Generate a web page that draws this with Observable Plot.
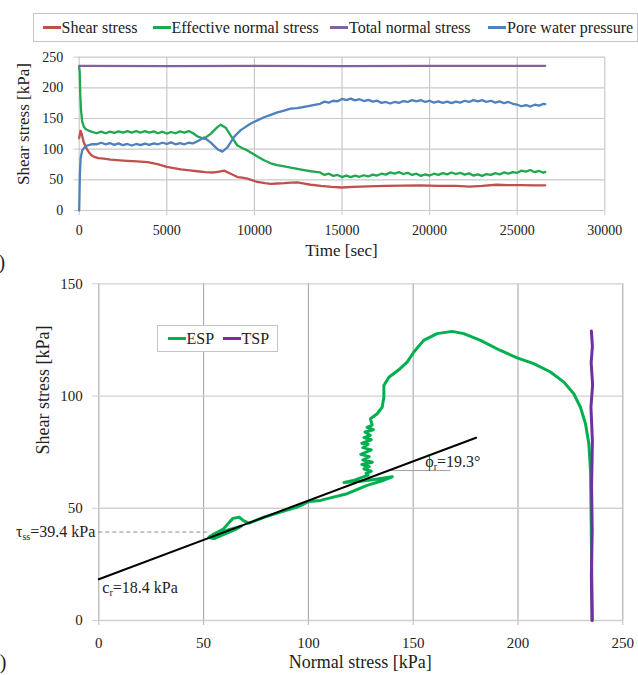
<!DOCTYPE html>
<html><head><meta charset="utf-8">
<script src="https://cdn.jsdelivr.net/npm/d3@7"></script>
<script src="https://cdn.jsdelivr.net/npm/@observablehq/plot@0.6"></script>
<style>
body{margin:0;background:#fff;}
#root{position:relative;width:638px;height:675px;overflow:hidden;font-family:"Liberation Serif",serif;color:#222;}
#top,#bottom{position:absolute;left:0;}
#top{top:0}
#bottom{top:265px}
.legend{position:absolute;border:1px solid #c4c4c4;background:#fff;box-sizing:border-box;}
.item{position:absolute;top:0;height:100%;display:flex;align-items:center;font-size:16px;white-space:nowrap;}
.sw{display:inline-block;width:18px;height:2.6px;margin-right:1px;}
.panel{position:absolute;font-size:20px;line-height:1;}
</style></head>
<body><div id="root"></div>
<script>
// ---------- data: time series (top) ----------
const xTicksTop = [0, 5000, 10000, 15000, 20000, 25000, 30000];
const yTicksTop = [0, 50, 100, 150, 200, 250];
const seriesNames = ["Shear stress", "Effective normal stress", "Total normal stress", "Pore water pressure"];
const seriesColors = ["#c0504d", "#1fa84f", "#8064a2", "#4f81bd"];

// [time (s), value (kPa)]
const shear = [[0,118],[80,130],[150,124],[250,112],[400,102],[550,95],[700,90],[900,87],[1100,85.5],[1400,84.5],[1800,83],[2500,81.5],[3300,80],[3900,79],[4460,75.5],[5000,71],[5400,69],[5800,67],[6300,65.5],[6740,64],[7200,62.5],[7700,62],[8000,63.5],[8270,65],[8650,60],[9030,54.5],[9300,53.5],[9600,52],[10170,46.5],[10600,44.5],[10930,43.5],[11300,44],[11700,44.5],[12100,45.5],[12450,46],[12850,44],[13220,42],[13790,40],[14400,38.5],[15000,37.5],[15600,38.5],[16500,39.5],[17500,40],[18500,40.5],[19470,41],[20500,40],[21500,40],[22300,39],[23000,40],[23800,42],[24500,41.5],[25200,41.5],[26000,41],[26600,41]];

const effective = [[0,235],[30,225],[60,190],[100,165],[170,145],[260,137],[360,133],[500,131],[650,129],
  [1000,126],[1250,128.5],[1500,126],[1750,128.5],[2000,126.5],[2250,129],[2500,127],[2750,129.5],[3000,127],[3250,129.5],[3500,127],[3750,129.5],[4000,127],[4250,129],[4500,126],[4750,128.5],[5000,125.5],[5250,128],[5500,126],[5750,129],[6000,127],[6250,129.5],
  [6500,126],[6740,121],[7120,117],[7500,125],[7890,136],[8080,140],[8360,135],[8650,122],[9030,106],[9300,102],[9600,98],[10170,88],[10550,82],[10930,77],[11300,74],[11700,72],[12070,70],[12450,68],[12840,66],[13220,64],[13500,63],
  [13750,62],[14000,58],[14250,60],[14500,56.5],[14750,58],[15000,54.5],[15250,57],[15500,54.5],[15750,57],[16000,55],[16250,57.5],[16500,55.5],[16750,58.5],[17000,57],[17250,60],[17500,58.5],[17750,62],[18000,60],[18250,62.5],[18500,59.5],[18750,61.5],[19000,58],[19250,60],[19500,56.5],[19750,59],[20000,57],[20250,60],[20500,58],[20750,61],[21000,59],[21250,62],[21500,59.5],[21750,61.5],[22000,58.5],[22250,60.5],[22500,57],[22750,59],[23000,56.5],[23250,59.5],[23500,58],[23750,61],[24000,59],[24250,62],[24500,60],[24750,62.5],[25000,61.5],[25250,65],[25500,63.5],[25750,66],[26000,62.5],[26250,64.5],[26500,61.5],[26600,63]];

const total = [[0,236],[5000,235.6],[10000,236],[15000,235.6],[20000,236],[26600,236]];

const pore = [[0,0],[20,30],[40,60],[80,85],[170,98],[300,103],[460,106],[700,108],
  [1000,108],[1250,110.5],[1500,108],[1750,110],[2000,107],[2250,109.5],[2500,106.5],[2750,108.5],[3000,106],[3250,108.5],[3500,106.5],[3750,109],[4000,107],[4250,109.5],[4500,108],[4750,110.5],[5000,108.5],[5250,111],[5500,108],[5750,110],[6000,108],[6250,110.5],[6500,109.5],
  [6750,113],[7120,119],[7500,111],[7890,100],[8170,96],[8460,103],[8840,120],[9220,131],[9790,142],[10170,147],[10550,152],[10930,156],[11310,160],[11700,163],[12070,166],[12450,167],[12840,169],[13220,171],[13500,172.5],
  [13750,174],[14000,177.5],[14250,176],[14500,179],[14750,178],[15000,182],[15250,180],[15500,182.5],[15750,179.5],[16000,181.5],[16250,178.5],[16500,180.5],[16750,177.5],[17000,179],[17250,175.5],[17500,177],[17750,174.5],[18000,177],[18250,175.5],[18500,178.5],[18750,177],[19000,180],[19250,178],[19500,180],[19750,177],[20000,179],[20250,176],[20500,178],[20750,175.5],[21000,177.5],[21250,175],[21500,177.5],[21750,176],[22000,179],[22250,177],[22500,180],[22750,178],[23000,180],[23250,177],[23500,179],[23750,176],[24000,178],[24250,175],[24500,177],[24750,174],[25000,172.5],[25250,170],[25500,172],[25750,169.5],[26000,172.5],[26250,171],[26500,174],[26600,173.5]];

// ---------- data: stress paths (bottom) ----------
const xTicksBot = [0, 50, 100, 150, 200, 250];
const yTicksBot = [0, 50, 100, 150];
const pathNames = ["ESP", "TSP"];
const pathColors = ["#00b050", "#7030a0"];
// [normal stress, shear stress] (kPa)
const esp = [[235.5,0],[235.2,20],[234.9,45],[234.6,66.8],[233.8,78.7],[232.2,87.6],[229.8,95],[226.6,101],[221.9,106.2],[215.5,110.7],[207.5,114.4],[199.6,117],[191.6,120.3],[182.1,124.8],[174.1,127.8],[168.6,128.8],[161.4,127.8],[155,124.8],[150.3,119.6],[147.1,115.1],[143.1,111.7],[138.4,108.4],[136,104.7],[136,99.5],[135.2,95],[132.8,92.1],[129.6,89.9],
  [130.4,87],[128,86],[131,85],[127,84],[129.5,82.5],[126.5,81.5],[130,80.5],[125.5,79],[128.5,78.5],[126,77],[130,76],[127.5,75],[125,74],[129,73],[126,71.5],[130.5,70.5],[125.5,69.5],[129,68.5],[126.5,67.5],[130,66.5],[127.5,65.5],[128.5,64.8],
  [122,62.5],[117,61.5],[125,62],[133,63],[140,64],[136,62.5],[128,60.2],[118.5,56.5],[110,54.5],[105.8,53.5],[100.2,53],[97,51.5],[94.6,50.5],[86.7,48.3],[78.7,46],[71.6,43.4],[69,44.5],[67,46],[64,45.5],[62,43.5],[59.6,40.9],[56,39],[54.9,38.6],[52.5,37],[55,36.5],[60,38.5],[65,40.5],[68,42],[62,40.5],[56,38],[53,37.5]];
const tsp = [[235.3,0],[235.0,20],[235.4,40],[235.1,60],[235.5,80],[234.8,95],[235.6,105],[234.9,115],[235.5,122],[235.0,129]];

// failure envelope & annotations
const cr = 18.4, phiR = 19.3, tauSS = 39.4;
const envX = [0, 180];
const angleRefS = 66.8, angleRefEndN = 168, tauDashEndN = 53;

// ---------- build ----------
const root = document.getElementById("root");
const font = "Liberation Serif, serif";

function legend(names, colors, box, swX) {
  const lg = document.createElement("div");
  lg.className = "legend";
  Object.assign(lg.style, {left: box[0] + "px", top: box[1] + "px", width: box[2] + "px", height: box[3] + "px"});
  names.forEach((n, i) => {
    const it = document.createElement("div");
    it.className = "item";
    it.style.left = (swX[i] - box[0]) + "px";
    it.innerHTML = `<span class="sw" style="background:${colors[i]}"></span><span>${n}</span>`;
    lg.appendChild(it);
  });
  root.appendChild(lg);
}
legend(seriesNames, seriesColors, [33, 13, 605, 29], [41.5, 151.5, 329, 487]);

const rows = (arr, s) => arr.map(([t, v]) => ({t, v, s}));
const tsData = [
  ...rows(shear, seriesNames[0]),
  ...rows(effective, seriesNames[1]),
  ...rows(total, seriesNames[2]),
  ...rows(pore, seriesNames[3])
];

const topText = {fontFamily: font, fontSize: 14, fill: "#222"};
const botText = {fontFamily: font, fontSize: 15, fill: "#222"};
const topPlot = Plot.plot({
  width: 638, height: 265,
  marginTop: 56.7, marginBottom: 55, marginLeft: 78.7, marginRight: 33.7,
  style: {fontFamily: font, fontSize: "14px", color: "#222", background: "transparent"},
  x: {domain: [0, 30000]},
  y: {domain: [0, 250]},
  color: {domain: seriesNames, range: seriesColors},
  marks: [
    Plot.gridX(xTicksTop, {stroke: "#c9c9c9", strokeOpacity: 1, strokeWidth: 1.2}),
    Plot.gridY(yTicksTop, {stroke: "#c9c9c9", strokeOpacity: 1, strokeWidth: 1.2}),
    Plot.axisX(xTicksTop, {tickSize: 5, tickPadding: 10, stroke: "#c9c9c9", tickFormat: d => String(d), label: null, ...topText}),
    Plot.axisY(yTicksTop, {tickSize: 5, tickPadding: 11, stroke: "#c9c9c9", label: null, ...topText}),
    Plot.line(tsData, {x: "t", y: "v", z: "s", stroke: "s", strokeWidth: 2.3, curve: "linear"})
  ]
});
topPlot.id = "top";
root.appendChild(topPlot);

const pathData = [
  ...esp.map(([n, s]) => ({n, s, p: pathNames[0]})),
  ...tsp.map(([n, s]) => ({n, s, p: pathNames[1]}))
];
const k = Math.tan(phiR * Math.PI / 180);
const envData = envX.map(x => ({n: x, s: cr + k * x}));

const botPlot = Plot.plot({
  width: 638, height: 410,
  marginTop: 18.3, marginBottom: 55, marginLeft: 98.3, marginRight: 15.7,
  style: {fontFamily: font, fontSize: "15px", color: "#222", background: "transparent"},
  x: {domain: [0, 250]},
  y: {domain: [0, 150]},
  color: {domain: pathNames, range: pathColors},
  marks: [
    Plot.gridX(xTicksBot, {stroke: "#a8a8a8", strokeOpacity: 1, strokeWidth: 1.1}),
    Plot.gridY(yTicksBot, {stroke: "#d0d0d0", strokeOpacity: 1, strokeWidth: 1.3}),
    Plot.axisX(xTicksBot, {tickSize: 5, tickPadding: 12, stroke: "#bbb", label: null, ...botText}),
    Plot.axisY(yTicksBot, {tickSize: 6, tickPadding: 10, stroke: "#d0d0d0", label: null, ...botText}),
    Plot.ruleY([tauSS], {x1: 0, x2: tauDashEndN, stroke: "#8c8c8c", strokeDasharray: "4,3", strokeWidth: 1}),
    Plot.ruleY([angleRefS], {x1: (angleRefS - cr) / k, x2: angleRefEndN, stroke: "#a0a0a0", strokeWidth: 1}),
    Plot.line(pathData, {x: "n", y: "s", z: "p", stroke: "p", strokeWidth: 3, curve: "linear", strokeLinejoin: "round"}),
    Plot.line(envData, {x: "n", y: "s", stroke: "#000", strokeWidth: 2})
  ]
});
botPlot.id = "bottom";
root.appendChild(botPlot);

// force serif on every text of both plots
d3.selectAll("#root svg text").style("font-family", font);

// axis titles
function title(svgEl, txt, x, y, rot, size) {
  d3.select(svgEl).append("text")
    .attr("transform", `translate(${x},${y})` + (rot ? ` rotate(${rot})` : ""))
    .attr("text-anchor", "middle").attr("font-family", font).attr("font-size", size).attr("fill", "#222")
    .text(txt);
}
const tsx = topPlot.scale("x"), tsy = topPlot.scale("y");
title(topPlot, "Time [sec]", (tsx.apply(0) + tsx.apply(30000)) / 2, tsy.apply(0) + 46, 0, 17);
title(topPlot, "Shear stress [kPa]", 29, tsy.apply(0) - 86, -90, 17);

// annotations with subscripts, positioned through the plot's scales
const sx = botPlot.scale("x"), sy = botPlot.scale("y");
title(botPlot, "Normal stress [kPa]", (sx.apply(0) + sx.apply(250)) / 2, sy.apply(0) + 48, 0, 18);
title(botPlot, "Shear stress [kPa]", 49, sy.apply(0) - 230, -90, 18);

const svg = d3.select(botPlot);
function subText(x, y, anchor, main, sub, rest) {
  const t = svg.append("text").attr("x", x).attr("y", y).attr("text-anchor", anchor)
    .attr("font-family", font).attr("font-size", 16).attr("fill", "#222");
  t.append("tspan").text(main);
  t.append("tspan").attr("font-size", 10).attr("dy", 3).text(sub);
  t.append("tspan").attr("dy", -3).text(rest);
}
subText(sx.apply(0) - 3, sy.apply(tauSS) + 5, "end", "τ", "ss", `=${tauSS} kPa`);
subText(sx.apply(0) + 4, sy.apply(cr) + 14, "start", "c", "r", `=${cr} kPa`);
subText(sx.apply(156), sy.apply(angleRefS) - 3, "start", "ϕ", "r", `=${phiR}°`);

legend(pathNames, pathColors, [157, 325, 121, 27], [166.5, 221.5]);

// panel labels (cut off at the left edge, as in the source figure)
[["(a)", 252], ["(b)", 652]].forEach(([s, y]) => {
  const p = document.createElement("div");
  p.className = "panel"; p.textContent = s;
  p.style.left = "-17px"; p.style.top = y + "px";
  root.appendChild(p);
});
</script>
</body></html>
